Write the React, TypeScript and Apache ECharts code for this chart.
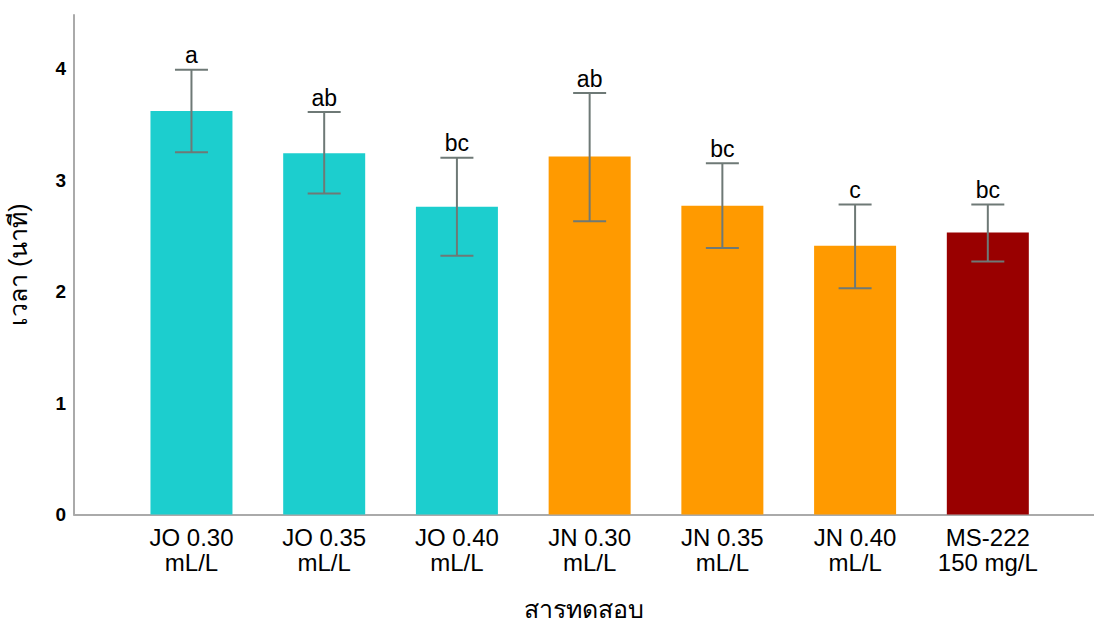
import React, { useEffect, useRef } from "react";
import * as echarts from "echarts";

const categories = [
  "JO 0.30\nmL/L",
  "JO 0.35\nmL/L",
  "JO 0.40\nmL/L",
  "JN 0.30\nmL/L",
  "JN 0.35\nmL/L",
  "JN 0.40\nmL/L",
  "MS-222\n150 mg/L",
];
const means = [3.62, 3.24, 2.76, 3.21, 2.77, 2.41, 2.53];
const lowerErr = [3.25, 2.88, 2.32, 2.63, 2.39, 2.03, 2.27];
const upperErr = [3.99, 3.61, 3.2, 3.78, 3.15, 2.78, 2.78];
const letters = ["a", "ab", "bc", "ab", "bc", "c", "bc"];
const barColors = ["#1ccece", "#1ccece", "#1ccece", "#ff9a00", "#ff9a00", "#ff9a00", "#990000"];
const yTicks = [0, 1, 2, 3, 4];
const yTitle = "เวลา (นาที)";
const xTitle = "สารทดสอบ";

const FONT = "'Liberation Sans', Arial, 'Noto Sans', sans-serif";

export default function App() {
  const ref = useRef<HTMLDivElement>(null);

  useEffect(() => {
    if (!ref.current) return;
    const chart = echarts.init(ref.current, undefined, { renderer: "svg" });
    const positions = categories.map((_, i) => i);

    chart.setOption({
      animation: false,
      backgroundColor: "#ffffff",
      grid: {
        left: 74,
        right: 0,
        top: 15,
        bottom: 111.5,
        containLabel: false,
        outerBoundsMode: "none",
      },
      xAxis: {
        type: "value",
        min: -0.885,
        max: 6.8,
        name: xTitle,
        nameLocation: "middle",
        nameGap: 80,
        nameTextStyle: { fontSize: 25, color: "#000", fontFamily: FONT, lineHeight: 28 },
        axisLine: { show: true, onZero: false, lineStyle: { color: "#aaaaaa", width: 2 } },
        axisTick: { show: false },
        splitLine: { show: false },
        axisLabel: {
          customValues: positions,
          formatter: (v: number) => categories[Math.round(v)] ?? "",
          fontSize: 24,
          lineHeight: 25,
          color: "#000",
          fontFamily: FONT,
          margin: 10,
          showMinLabel: true,
          showMaxLabel: true,
        },
      },
      yAxis: {
        type: "value",
        min: 0,
        max: 4.48,
        interval: 1,
        name: yTitle,
        nameLocation: "middle",
        nameGap: 44,
        nameRotate: 90,
        nameTextStyle: { fontSize: 25, color: "#000", fontFamily: FONT },
        axisLine: { show: true, onZero: false, lineStyle: { color: "#aaaaaa", width: 2 } },
        axisTick: { show: false },
        splitLine: { show: false },
        axisLabel: {
          customValues: yTicks,
          fontSize: 19,
          fontWeight: "bold",
          color: "#000",
          fontFamily: FONT,
          margin: 8,
        },
      },
      series: [
        {
          type: "bar",
          barWidth: 82,
          data: means.map((m, i) => ({
            value: [positions[i], m],
            itemStyle: { color: barColors[i] },
          })),
        },
        {
          type: "custom",
          data: means.map((_, i) => [positions[i], lowerErr[i], upperErr[i]]),
          encode: { x: 0, y: [1, 2] },
          z: 5,
          renderItem: (params: any, api: any) => {
            const x = api.value(0);
            const lo = api.coord([x, api.value(1)]);
            const hi = api.coord([x, api.value(2)]);
            const half = 16.5;
            const ls = { stroke: "#6e7976", lineWidth: 2 };
            return {
              type: "group",
              children: [
                { type: "line", shape: { x1: lo[0], y1: lo[1], x2: hi[0], y2: hi[1] }, style: ls },
                { type: "line", shape: { x1: hi[0] - half, y1: hi[1], x2: hi[0] + half, y2: hi[1] }, style: ls },
                { type: "line", shape: { x1: lo[0] - half, y1: lo[1], x2: lo[0] + half, y2: lo[1] }, style: ls },
                {
                  type: "text",
                  style: {
                    text: letters[params.dataIndex],
                    x: hi[0],
                    y: hi[1] - 3,
                    align: "center",
                    verticalAlign: "bottom",
                    fontSize: 23,
                    fontFamily: FONT,
                    fill: "#000",
                  },
                },
              ],
            };
          },
        },
      ],
    });

    return () => chart.dispose();
  }, []);

  return (
    <div
      ref={ref}
      style={{ position: "fixed", left: 0, top: 0, width: 1094, height: 626, background: "#fff" }}
    />
  );
}
